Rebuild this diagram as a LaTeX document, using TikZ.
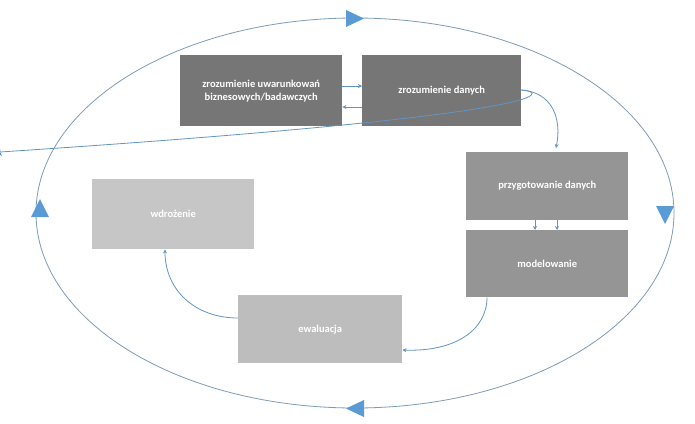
\documentclass[tikz,border=0pt]{standalone}
\usepackage{fontspec}
\setmainfont{Carlito}
\usetikzlibrary{arrows.meta}
\definecolor{dk}{HTML}{767676}
\definecolor{md}{HTML}{959595}
\definecolor{lt}{HTML}{C6C6C6}
\definecolor{ev}{HTML}{BDBDBD}
\definecolor{bl}{HTML}{5B9BD5}
\definecolor{el}{HTML}{7F9BB5}
\tikzset{box/.style={minimum width=162pt,minimum height=70pt,inner sep=0pt,text=white,font=\fontsize{10.5}{13}\selectfont\bfseries,align=center,anchor=north west},
conn/.style={draw=bl!80!gray,line width=0.8pt,-{Stealth[length=4pt,width=4pt]}},
tri/.style={fill=bl,draw=none}}
\begin{document}
\begin{tikzpicture}[x=1pt,y=1pt]
\useasboundingbox (0,0) rectangle (695,-423);
\fill[white] (0,0) rectangle (695,-423);
\draw[el,line width=0.8pt] (355,-213) ellipse [x radius=319, y radius=195];
\node[box,fill=dk,minimum width=162pt,minimum height=71pt] (b1) at (180,-55) {zrozumienie uwarunkowań\\biznesowych/badawczych};
\node[box,fill=dk,minimum width=159pt,minimum height=71pt] (b2) at (362,-55) {zrozumienie danych};
\node[box,fill=md,minimum height=68pt] (b3) at (466,-152) {przygotowanie danych};
\node[box,fill=md,minimum height=67pt] (b4) at (466,-230) {modelowanie};
\node[box,fill=lt] (b5) at (92,-179) {wdrożenie};
\node[box,fill=ev,minimum width=164pt,minimum height=68pt] (b6) at (238,-295) {ewaluacja};
\draw[conn] (b1.east|-0,-86) -- (b2.west|-0,-86);
\draw[conn] (b2.west|-0,-107) -- (b1.east|-0,-107);
\draw[conn] (b2.east|-0,-90) .. controls (550,-92) and (562,-115) .. (b3.north-|0,-148) -- ++(0,0);
\draw[conn] (521,-90) .. controls (552,-92) and (562,-118) .. (556,-148);
\draw[conn] (b3.south-|535,0) -- (b4.north-|535,0);
\draw[conn] (b3.south-|557,0) -- (b4.north-|557,0);
\draw[conn] (b4.south-|487,0) .. controls (487,-330) and (455,-352) .. (b6.east|-0,-350);
\draw[conn] (b6.west|-0,-318) .. controls (195,-318) and (165,-290) .. (b5.south-|165,0);
\fill[tri] (346,-10) -- (346,-27) -- (364,-18.5) -- cycle;
\fill[tri] (656,-206) -- (674,-206) -- (665,-224) -- cycle;
\fill[tri] (364,-400) -- (364,-417) -- (346,-408.5) -- cycle;
\fill[tri] (31,-217) -- (49,-217) -- (40,-199) -- cycle;
\end{tikzpicture}
\end{document}
